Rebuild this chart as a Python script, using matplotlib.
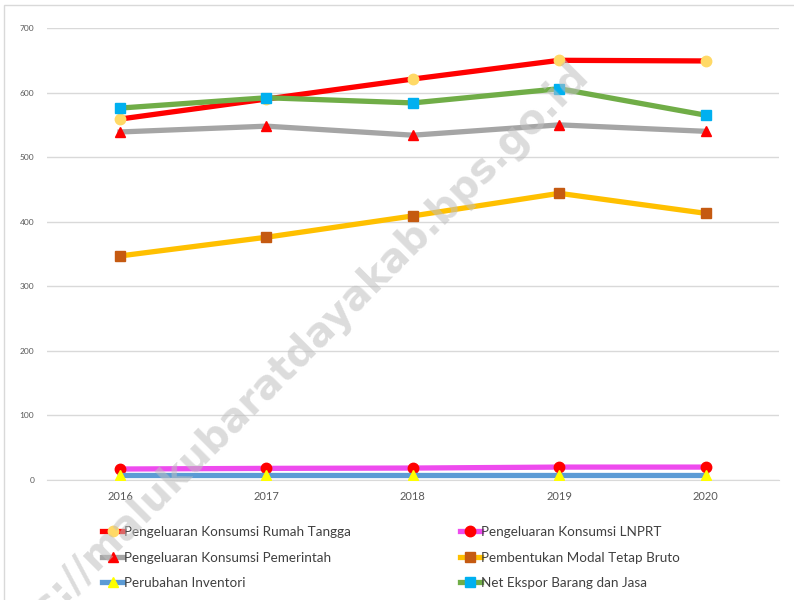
import matplotlib.pyplot as plt
from matplotlib.patches import Rectangle

# Data
years = ['2016', '2017', '2018', '2019', '2020']
rumah_tangga = [559, 590, 621, 650, 649]
lnprt = [17, 18, 18.5, 20, 20]
pemerintah = [539, 548, 534, 550, 540]
pmtb = [347, 376, 409, 444, 413]
inventori = [8, 8, 8, 8, 8]
net_ekspor = [576, 592, 584, 606, 565]

plt.rcParams['font.family'] = ['Lato', 'DejaVu Sans']

fig = plt.figure(figsize=(7.94, 6), dpi=100)
ax = fig.add_axes([0.059, 0.2, 0.922, 0.7533])

x = range(len(years))
lw = 3.8
ms = 7.5

l_rt, = ax.plot(x, rumah_tangga, color='#FF0000', lw=lw, marker='o', ms=ms,
                mfc='#FFD966', mec='#FFD966', label='Pengeluaran Konsumsi Rumah Tangga', zorder=3)
l_ln, = ax.plot(x, lnprt, color='#EE4BEE', lw=lw, marker='o', ms=ms,
                mfc='#FF0000', mec='#FF0000', label='Pengeluaran Konsumsi LNPRT', zorder=3)
l_pm, = ax.plot(x, pemerintah, color='#A5A5A5', lw=lw, marker='^', ms=ms,
                mfc='#FF0000', mec='#FF0000', label='Pengeluaran Konsumsi Pemerintah', zorder=4)
l_pmtb, = ax.plot(x, pmtb, color='#FFC000', lw=lw, marker='s', ms=ms - 0.5,
                  mfc='#C55A11', mec='#C55A11', label='Pembentukan Modal Tetap Bruto', zorder=4)
l_inv, = ax.plot(x, inventori, color='#5B9BD5', lw=lw, marker='^', ms=ms,
                 mfc='#FFFF00', mec='#FFFF00', label='Perubahan Inventori', zorder=4)
l_ne, = ax.plot(x, net_ekspor, color='#70AD47', lw=lw, marker='s', ms=ms - 0.5,
                mfc='#00B0F0', mec='#00B0F0', label='Net Ekspor Barang dan Jasa', zorder=5)

ax.set_xlim(-0.5, 4.5)
ax.set_ylim(0, 700)
ax.set_xticks(list(x))
ax.set_xticklabels(years, fontsize=8, color='#595959')
ax.set_yticks(range(0, 701, 100))
ax.tick_params(axis='y', labelsize=6, colors='#595959', length=0, pad=9)
ax.tick_params(axis='x', length=0, pad=8)
ax.grid(axis='y', color='#D9D9D9', lw=1)
ax.set_axisbelow(True)
for s in ['top', 'right', 'left']:
    ax.spines[s].set_visible(False)
ax.spines['bottom'].set_color('#D9D9D9')

handles = [l_rt, l_pm, l_inv, l_ln, l_pmtb, l_ne]
leg = fig.legend(handles, [h.get_label() for h in handles], ncol=2,
                 loc='upper left', bbox_to_anchor=(0.122, 0.132), frameon=False,
                 fontsize=9.7, handlelength=1.55, handletextpad=0.05,
                 columnspacing=8.1, labelspacing=1.0, labelcolor='#404040',
                 borderaxespad=0)

# outer chart frame (cropped on right/bottom)
fig.patches.append(Rectangle((0.005, -0.1), 1.2, 0.1 + 0.992, transform=fig.transFigure,
                             fill=False, ec='#D9D9D9', lw=1))

# watermark (partly cut off in the source image)
fig.text(311 / 794, 1 - 342 / 600, 's://malukubaratdayakab.bps.go.id',
         rotation=45, rotation_mode='anchor', ha='center', va='center',
         fontsize=28.6, fontweight='bold', color='#BFBFBF', alpha=0.55,
         family='DejaVu Sans', zorder=10)

fig.savefig('out.png', dpi=100)
